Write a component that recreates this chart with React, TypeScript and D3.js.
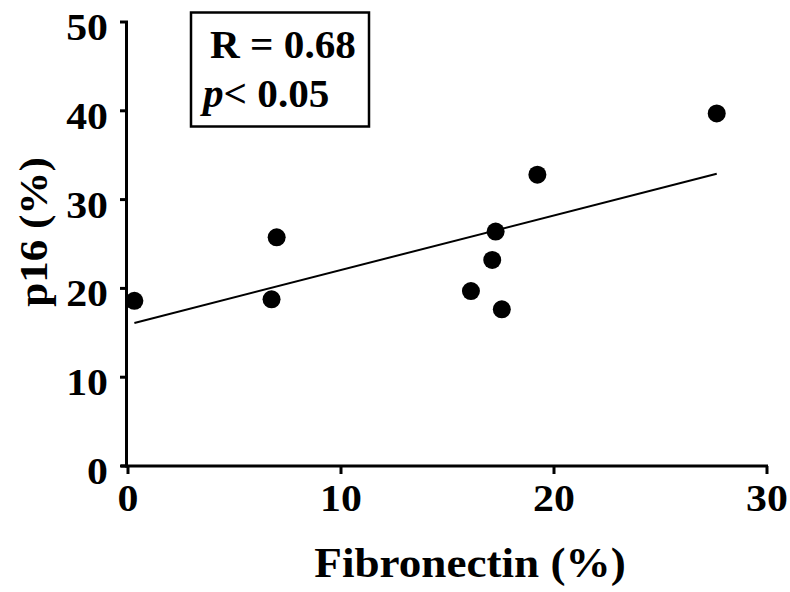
import React from "react";
import * as d3 from "d3";

// values
const fibronectin = [0.3, 6.74, 6.98, 16.1, 17.1, 17.26, 17.55, 19.22, 27.64];
const p16 = [18.6, 18.77, 25.75, 19.7, 23.2, 26.4, 17.65, 32.8, 39.7];
const xTicks = [0, 10, 20, 30];
const yTicks = [0, 10, 20, 30, 40, 50];
const statLines = ["R = 0.68", "p< 0.05"];

const W = 790;
const H = 592;
const FONT = "'Liberation Serif', 'Times New Roman', serif";

// the original type is a bit wider than Times, so stretch it sideways
function Label(props: { x: number; y: number; size: number; sx?: number; anchor?: string; rot?: number; children: React.ReactNode }) {
  const { x, y, size, sx = 1.1, anchor = "start", rot = 0 } = props;
  return (
    <text
      transform={`translate(${x},${y}) rotate(${rot}) scale(${sx},1)`}
      textAnchor={anchor}
      fontSize={size}
    >
      {props.children}
    </text>
  );
}

export default function App() {
  const x = d3.scaleLinear().domain([0, 30]).range([128, 767]);
  const y = d3.scaleLinear().domain([0, 50]).range([466, 22]);

  // least squares fit
  const mx = d3.mean(fibronectin) as number;
  const my = d3.mean(p16) as number;
  const sxy = d3.sum(fibronectin, (v, i) => (v - mx) * (p16[i] - my));
  const sxx = d3.sum(fibronectin, (v) => (v - mx) * (v - mx));
  const slope = sxy / sxx;
  const icept = my - slope * mx;
  const [x0, x1] = d3.extent(fibronectin) as [number, number];
  const fit = d3.line<number>()
    .x((d) => x(d))
    .y((d) => y(icept + slope * d));

  return (
    <svg
      width={W}
      height={H}
      style={{ position: "absolute", left: 0, top: 0, background: "#fff" }}
      fontFamily={FONT}
      fontWeight="bold"
    >
      {/* axes */}
      <line x1={x(0) - 1.5} x2={x(0) - 1.5} y1={y(50) - 1} y2={y(0) + 1.5} stroke="#000" strokeWidth={3} />
      <line x1={x(0) - 7} x2={x(30) + 1} y1={y(0)} y2={y(0)} stroke="#000" strokeWidth={3} />
      {yTicks.map((t) => (
        <g key={"y" + t}>
          <line x1={x(0) - 8} x2={x(0)} y1={y(t)} y2={y(t)} stroke="#000" strokeWidth={3} />
          <Label x={108} y={y(t) + 18} size={38} anchor="end">
            {t}
          </Label>
        </g>
      ))}
      {xTicks.map((t) => (
        <g key={"x" + t}>
          <line x1={x(t)} x2={x(t)} y1={y(0)} y2={y(0) + 8} stroke="#000" strokeWidth={3} />
          <Label x={x(t)} y={511} size={38} anchor="middle">
            {t}
          </Label>
        </g>
      ))}

      {/* axis titles */}
      <Label x={470} y={577} size={43} sx={1.05} anchor="middle">
        Fibronectin (%)
      </Label>
      <Label x={47} y={232} size={41} sx={1.05} rot={-90} anchor="middle">
        p16 (%)
      </Label>

      {/* regression line */}
      <path d={fit([x0, x1]) ?? ""} fill="none" stroke="#000" strokeWidth={2} />

      {/* points */}
      {fibronectin.map((v, i) => (
        <circle key={i} cx={x(v)} cy={y(p16[i])} r={9} fill="#000" />
      ))}

      {/* stats box */}
      <rect x={191} y={12.5} width={178} height={114} fill="#fff" stroke="#000" strokeWidth={2.5} />
      <Label x={210} y={58} size={40} sx={1.03}>
        {statLines[0]}
      </Label>
      <Label x={203} y={107} size={40} sx={1.03}>
        <tspan fontStyle="italic">{statLines[1].slice(0, 1)}</tspan>
        {statLines[1].slice(1)}
      </Label>
    </svg>
  );
}
